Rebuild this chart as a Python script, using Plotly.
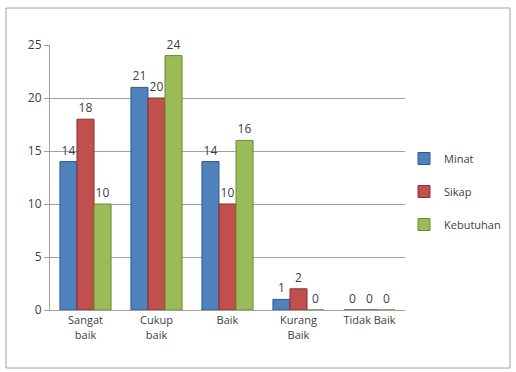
import plotly.graph_objects as go

categories = ["Sangat<br>baik", "Cukup<br>baik", "Baik", "Kurang<br>Baik", "Tidak Baik"]
minat = [14, 21, 14, 1, 0]
sikap = [18, 20, 10, 2, 0]
kebutuhan = [10, 24, 16, 0, 0]
y_ticks = [0, 5, 10, 15, 20, 25]

series = [("Minat", minat, "#4F81BD", "#2E5A8C"),
          ("Sikap", sikap, "#C0504D", "#8C2F2D"),
          ("Kebutuhan", kebutuhan, "#9BBB59", "#6A8A30")]

fig = go.Figure()
for name, vals, col, edge in series:
    fig.add_trace(go.Bar(
        name=name, x=categories, y=vals, legendgroup=name,
        marker=dict(color=col, line=dict(color=edge, width=1)),
        text=[str(v) for v in vals], textposition="outside",
        textfont=dict(size=12, color="#404040"), cliponaxis=False,
    ))

W, H = 516, 372
ml, mr, mt, mb = 50, 111, 45, 62
pw = W - ml - mr
ph = H - mt - mb
def px_x(p):
    return (p - ml) / pw
def px_y(p):
    return (H - mb - p) / ph

fig.update_layout(
    width=W, height=H,
    margin=dict(l=ml, r=mr, t=mt, b=mb, autoexpand=False),
    paper_bgcolor="white", plot_bgcolor="white",
    barmode="group", bargap=0.28, bargroupgap=0.0,
    font=dict(family="Open Sans, Liberation Sans, sans-serif", size=11, color="#404040"),
    showlegend=True,
    legend=dict(x=px_x(404), y=px_y(144), xanchor="left", yanchor="top",
                font=dict(size=11, color="#404040"), tracegroupgap=14,
                itemwidth=30, bgcolor="rgba(0,0,0,0)"),
    xaxis=dict(showgrid=False, showline=True, linecolor="#A0A0A0", linewidth=1,
               ticks="", tickfont=dict(size=11, color="#404040")),
    yaxis=dict(range=[0, 25], tickvals=y_ticks, showgrid=True, gridcolor="#A0A0A0",
               gridwidth=1, showline=True, linecolor="#A0A0A0", ticks="outside",
               ticklen=5, tickcolor="#A0A0A0", tickfont=dict(size=12, color="#404040"),
               zeroline=False),
    shapes=[dict(type="rect", xref="paper", yref="paper",
                 x0=px_x(6), x1=px_x(510), y0=px_y(368), y1=px_y(8),
                 line=dict(color="#A0A0A0", width=1), layer="below")],
)

fig.write_html("out.html")
